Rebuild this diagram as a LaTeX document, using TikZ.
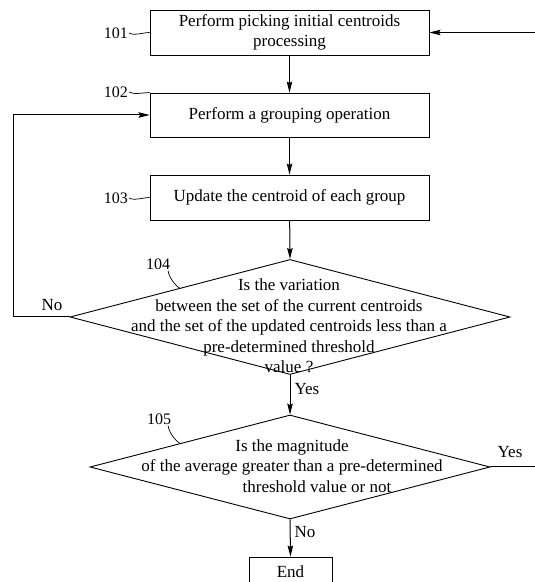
\documentclass[tikz,border=0pt]{standalone}
\usepackage{fontspec}
\setmainfont{Liberation Serif}
\usetikzlibrary{shapes.geometric,arrows.meta}
\begin{document}
\begin{tikzpicture}[x=1pt,y=1pt,
  every node/.style={font=\fontsize{17}{20.5}\selectfont},
  procbox/.style={draw,line width=0.9pt,minimum width=279pt,minimum height=45pt,inner sep=0pt,align=center},
  decision/.style={draw,diamond,line width=0.9pt,inner sep=0pt},
  dtext/.style={align=center,inner sep=0pt},
  flow/.style={line width=1pt,-{Stealth[length=11pt,width=5.5pt,inset=1.5pt]}},
  plainline/.style={line width=1pt},
  lbl/.style={font=\fontsize{16}{18}\selectfont,inner sep=0pt},
  leader/.style={line width=0.7pt}
]
\useasboundingbox (0,0) rectangle (535,582);
% boxes
\node[procbox] (b101) at (289.5,549.5) {Perform picking initial centroids\\processing};
\node[procbox,minimum height=44pt] (b102) at (289.5,467) {Perform a grouping operation};
\node[procbox] (b103) at (289.5,384.5) {Update the centroid of each group};
% decisions
\node[decision,minimum width=440pt,minimum height=115pt] (d104) at (290,265) {};
\node[dtext] (t104) at (289,256) {Is the variation\\between the set of the current centroids\\and the set of the updated centroids less than a\\pre-determined threshold\\value ?};
\node[decision,minimum width=400pt,minimum height=104pt] (d105) at (290,115) {};
\node[dtext] (t105) at (292,116) {Is the magnitude\\of the average greater than a pre-determined\\\hspace*{50pt}threshold value or not};
% end
\node[draw,line width=0.9pt,minimum width=83pt,minimum height=30pt,inner sep=0pt] (end) at (290.5,10) {End};
% connectors
\draw[flow] (b101) -- (b102);
\draw[flow] (b102) -- (b103);
\draw[flow] (b103) -- (d104.north);
\draw[flow] (d104.south) -- node[right,inner sep=4pt,pos=0.35] {Yes} (d105.north);
\draw[flow] (d105.south) -- node[right,inner sep=4pt,pos=0.35] {No} (end.north);
\coordinate (loopx) at (13,0);
\draw[flow] (d104.west) -- (loopx |- d104.west) -- (loopx |- b102.west) -- (b102.west);
\node[inner sep=0pt] (no104) at (52,277) {No};
\coordinate (rightout) at (540,0);
\draw[plainline] (d105.east) -- (rightout |- d105.east);
\node[inner sep=0pt] (yes105) at (510,130) {Yes};
\draw[flow] (rightout |- b101.east) -- (b101.east);
% reference numerals
\node[lbl,anchor=east] (n101) at (128,549) {101};
\node[lbl,anchor=east] (n102) at (128,490) {102};
\node[lbl,anchor=east] (n103) at (128,384) {103};
\node[lbl] (n104) at (158,318) {104};
\node[lbl] (n105) at (159,163) {105};
\draw[leader] (n101.east) ++(1,0) .. controls +(5,-3) and +(-6,0) .. (b101.west);
\draw[leader] (n102.east) ++(1,0) .. controls +(5,-3) and +(-6,0) .. (b102.north west);
\draw[leader] (n103.east) ++(1,0) .. controls +(5,-3) and +(-6,0) .. (b103.west);
\coordinate (e104) at (180,293.5);
\coordinate (e105) at (180,138.5);
\draw[leader] (n104.south east) ++(-2,-1) .. controls +(0,-5) and +(-6,4) .. (e104);
\draw[leader] (n105.south east) ++(-3,-1) .. controls +(0,-5) and +(-6,4) .. (e105);
\end{tikzpicture}
\end{document}
